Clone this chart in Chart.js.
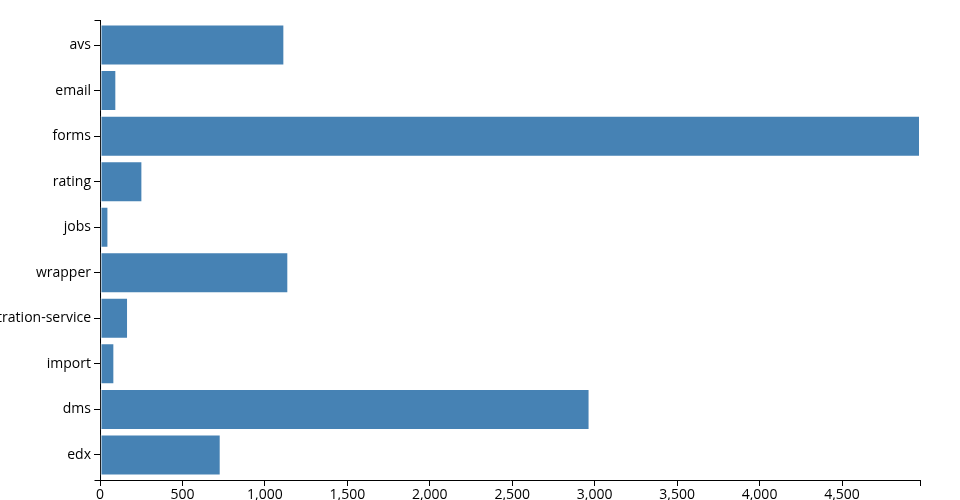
<!DOCTYPE html>
<html>
<head>
<meta charset="utf-8">
<script src="https://cdn.jsdelivr.net/npm/chart.js@4"></script>
<style>
  html, body { margin: 0; padding: 0; background: #fff; }
  #wrap { width: 960px; height: 500px; position: relative; }
</style>
</head>
<body>
<div id="wrap"><canvas id="c" width="960" height="500"></canvas></div>
<script>
const categories = ["avs", "email", "forms", "rating", "jobs", "wrapper", "registration-service", "import", "dms", "edx"];
const values = [1118, 99, 4973, 257, 51, 1142, 170, 87, 2969, 732];
const xTickValues = [0, 500, 1000, 1500, 2000, 2500, 3000, 3500, 4000, 4500];

const FONT = { family: "'Open Sans', sans-serif", size: 14 };
const xMax = Math.max(...values);
const pad = 0.1; // band padding (d3-style)
const fmt = v => String(v).replace(/\B(?=(\d{3})+(?!\d))/g, ',');

// d3-style outer ticks at both ends of the y-axis domain
const outerTicks = {
  id: 'outerTicks',
  afterDraw(chart) {
    const { ctx, chartArea } = chart;
    const len = chart.options.scales.y.grid.tickLength;
    ctx.save();
    ctx.strokeStyle = '#000';
    ctx.lineWidth = 1;
    ctx.beginPath();
    const x = Math.round(chartArea.left) + 0.5;
    [chartArea.top, chartArea.bottom].forEach(y => {
      const yy = Math.round(y) + 0.5;
      ctx.moveTo(x - len, yy);
      ctx.lineTo(x, yy);
    });
    ctx.stroke();
    ctx.restore();
  }
};

new Chart(document.getElementById('c'), {
  type: 'bar',
  data: {
    datasets: [{
      data: values.map((v, i) => ({ x: v, y: i })),
      backgroundColor: '#4682b4',
      borderColor: 'rgba(255,255,255,0.5)',
      borderWidth: 1,
      borderSkipped: false,
      barPercentage: 1 - pad,
      categoryPercentage: 1
    }]
  },
  options: {
    indexAxis: 'y',
    responsive: false,
    animation: false,
    devicePixelRatio: 1,
    layout: { padding: { top: 20, right: 40, left: 0, bottom: 0 } },
    plugins: { legend: { display: false }, tooltip: { enabled: false } },
    scales: {
      x: {
        type: 'linear',
        min: 0,
        max: xMax,
        afterBuildTicks: s => { s.ticks = xTickValues.concat([xMax]).map(v => ({ value: v })); },
        afterFit: s => { s.height = 20; },
        ticks: {
          font: FONT, color: '#000', padding: 1, maxRotation: 0, autoSkip: false,
          callback: v => (xTickValues.includes(v) ? fmt(v) : '')
        },
        grid: { drawOnChartArea: false, drawTicks: true, tickLength: 6, color: '#000', lineWidth: 1 },
        border: { display: true, color: '#000', width: 1 }
      },
      y: {
        type: 'linear',
        reverse: true,
        offset: false,
        min: -0.5 - pad / 2,
        max: categories.length - 0.5 + pad / 2,
        afterBuildTicks: s => {
          s.ticks = categories.map((c, i) => ({ value: i }));
        },
        afterFit: s => { s.width = 100; },
        ticks: {
          font: FONT, color: '#000', padding: 3, autoSkip: false,
          callback: v => (Number.isInteger(v) && categories[v] !== undefined ? categories[v] : '')
        },
        grid: { offset: false, drawOnChartArea: false, drawTicks: true, tickLength: 6, color: '#000', lineWidth: 1 },
        border: { display: true, color: '#000', width: 1 }
      }
    }
  },
  plugins: [outerTicks]
});
</script>
</body>
</html>
